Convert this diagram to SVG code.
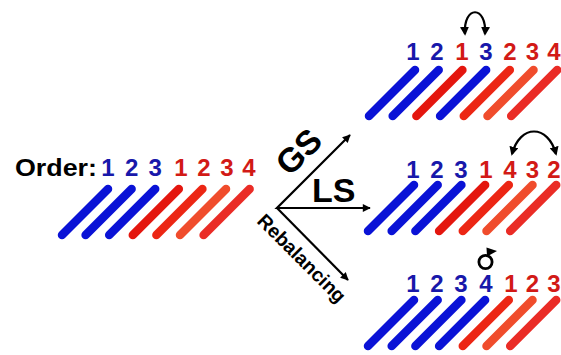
<svg xmlns="http://www.w3.org/2000/svg" xmlns:xlink="http://www.w3.org/1999/xlink" width="561" height="355" viewBox="0 0 561 355">
<style>
.bar{stroke-width:8.5;stroke-linecap:round;fill:none}
.b{stroke:#0a12d6}
.r1{stroke:#e4160e}
.r2{stroke:#ec2614}
.r3{stroke:#f04c2c}
.r4{stroke:#ea2c26}
text{font-family:"Liberation Sans",Arial,Helvetica,sans-serif;font-weight:bold}
.n{font-size:24px;text-anchor:middle}
.nb{fill:#1818aa}
.nr{fill:#d21a16}
.arr{stroke:#000;stroke-width:2.2;fill:none}
</style>
<defs>
<marker id="ah" viewBox="0 0 10 10" refX="9" refY="5" markerWidth="10" markerHeight="8" markerUnits="userSpaceOnUse" orient="auto-start-reverse">
<path d="M0,0 L10,5 L0,10 z" fill="#000"/>
</marker>
<marker id="ah2" viewBox="0 0 10 10" refX="8" refY="5" markerWidth="9" markerHeight="9" markerUnits="userSpaceOnUse" orient="auto-start-reverse">
<path d="M0,0 L10,5 L0,10 z" fill="#000"/>
</marker>
<line id="bar" x1="0" y1="0" x2="46" y2="-46"/>
</defs>

<g id="original">
<text x="15" y="176" font-size="24" textLength="82" lengthAdjust="spacingAndGlyphs" fill="#000">Order:</text>
<text class="n nb" x="108" y="176">1</text>
<text class="n nb" x="131.6" y="176">2</text>
<text class="n nb" x="155.2" y="176">3</text>
<text class="n nr" x="181" y="176">1</text>
<text class="n nr" x="204" y="176">2</text>
<text class="n nr" x="227" y="176">3</text>
<text class="n nr" x="249" y="176">4</text>
<use href="#bar" class="bar b" x="62" y="235"/>
<use href="#bar" class="bar b" x="85.6" y="235"/>
<use href="#bar" class="bar b" x="109.2" y="235"/>
<use href="#bar" class="bar r1" x="132.8" y="235"/>
<use href="#bar" class="bar r2" x="156.4" y="235"/>
<use href="#bar" class="bar r3" x="180" y="235"/>
<use href="#bar" class="bar r4" x="203.6" y="235"/>
</g>

<g id="gs-result">
<text class="n nb" x="413" y="60">1</text>
<text class="n nb" x="437" y="60">2</text>
<text class="n nr" x="462" y="60">1</text>
<text class="n nb" x="486" y="60">3</text>
<text class="n nr" x="510" y="60">2</text>
<text class="n nr" x="532.5" y="60">3</text>
<text class="n nr" x="554" y="60">4</text>
<use href="#bar" class="bar b" x="369" y="116"/>
<use href="#bar" class="bar b" x="392.7" y="116"/>
<use href="#bar" class="bar r1" x="416.4" y="116"/>
<use href="#bar" class="bar b" x="440.1" y="116"/>
<use href="#bar" class="bar r2" x="463.8" y="116"/>
<use href="#bar" class="bar r3" x="487.5" y="116"/>
<use href="#bar" class="bar r4" x="511.2" y="116"/>
<path class="arr" d="M465,34 C463,5 487,5 485,34" marker-start="url(#ah2)" marker-end="url(#ah2)"/>
</g>

<g id="ls-result">
<text class="n nb" x="413" y="178">1</text>
<text class="n nb" x="437" y="178">2</text>
<text class="n nb" x="461" y="178">3</text>
<text class="n nr" x="486" y="178">1</text>
<text class="n nr" x="510" y="178">4</text>
<text class="n nr" x="532.5" y="178">3</text>
<text class="n nr" x="554" y="178">2</text>
<use href="#bar" class="bar b" x="368" y="231"/>
<use href="#bar" class="bar b" x="391.7" y="231"/>
<use href="#bar" class="bar b" x="415.4" y="231"/>
<use href="#bar" class="bar r1" x="439.1" y="231"/>
<use href="#bar" class="bar r2" x="462.8" y="231"/>
<use href="#bar" class="bar r3" x="486.5" y="231"/>
<use href="#bar" class="bar r4" x="510.2" y="231"/>
<path class="arr" d="M512,154 C520,124 548,124 556,154" marker-start="url(#ah2)" marker-end="url(#ah2)"/>
</g>

<g id="rebalancing-result">
<text class="n nb" x="413" y="292">1</text>
<text class="n nb" x="437" y="292">2</text>
<text class="n nb" x="461" y="292">3</text>
<text class="n nb" x="486" y="292">4</text>
<text class="n nr" x="511" y="292">1</text>
<text class="n nr" x="532.5" y="292">2</text>
<text class="n nr" x="554" y="292">3</text>
<use href="#bar" class="bar b" x="368" y="346"/>
<use href="#bar" class="bar b" x="391.7" y="346"/>
<use href="#bar" class="bar b" x="415.4" y="346"/>
<use href="#bar" class="bar b" x="439.1" y="346"/>
<use href="#bar" class="bar r2" x="462.8" y="346"/>
<use href="#bar" class="bar r3" x="486.5" y="346"/>
<use href="#bar" class="bar r4" x="510.2" y="346"/>
<circle cx="485.5" cy="262" r="6.6" fill="none" stroke="#000" stroke-width="2.8"/>
<path d="M486.5,247.5 L497,251 L487,256.5 z" fill="#000"/>
</g>

<g id="connectors">
<path class="arr" d="M350,135 L277,208 L370,208" marker-start="url(#ah)" marker-end="url(#ah)"/>
<path class="arr" d="M277,208 L348,280" marker-end="url(#ah)"/>
<text font-size="34" text-anchor="middle" transform="translate(307,160) rotate(-45)">GS</text>
<text font-size="34" x="312" y="202">LS</text>
<text font-size="19.5" text-anchor="middle" transform="translate(297,263) rotate(45)">Rebalancing</text>
</g>
</svg>
